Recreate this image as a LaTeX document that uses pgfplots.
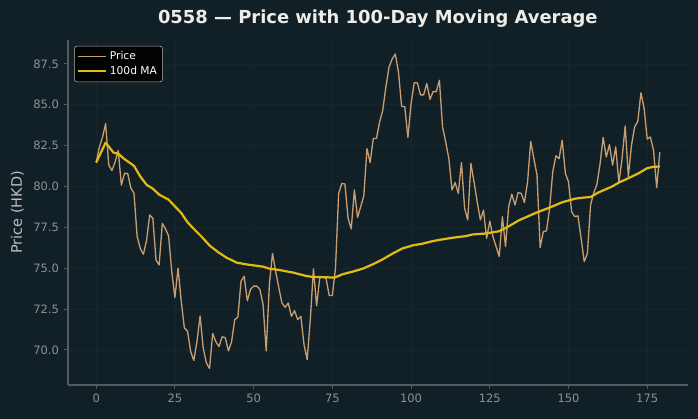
\documentclass[border=0pt]{standalone}
\usepackage{pgfplots}
\pgfplotsset{compat=1.18}
\usepackage{fontspec}
\setmainfont{DejaVu Sans}
\definecolor{bg}{RGB}{17,31,38}
\definecolor{gridc}{RGB}{23,37,44}
\definecolor{spine}{RGB}{85,90,95}
\definecolor{ticklab}{RGB}{140,146,150}
\definecolor{pricec}{RGB}{200,157,112}
\definecolor{mac}{RGB}{226,186,20}
\definecolor{titlec}{RGB}{238,236,230}
\pgfplotstableread{
x y
0 81.46
1 82.4
2 83.0
3 83.84
4 81.3
5 80.97
6 81.5
7 82.2
8 80.08
9 80.8
10 80.8
11 79.9
12 79.6
13 76.95
14 76.2
15 75.85
16 76.7
17 78.25
18 78.05
19 75.5
20 75.2
21 77.74
22 77.4
23 76.97
24 74.8
25 73.2
26 75.0
27 73.0
28 71.34
29 71.15
30 69.9
31 69.35
32 70.5
33 72.07
34 70.1
35 69.2
36 68.86
37 71.0
38 70.5
39 70.2
40 70.8
41 70.75
42 69.94
43 70.5
44 71.85
45 72.0
46 74.2
47 74.5
48 73.0
49 73.7
50 73.9
51 73.9
52 73.7
53 72.76
54 69.93
55 74.0
56 75.9
57 74.8
58 73.8
59 72.87
60 72.6
61 72.87
62 72.05
63 72.4
64 71.85
65 72.05
66 70.33
67 69.4
68 71.85
69 74.96
70 72.7
71 74.4
72 74.45
73 74.37
74 73.33
75 73.33
76 75.0
77 79.57
78 80.18
79 80.15
80 78.05
81 77.4
82 79.78
83 78.1
84 78.76
85 79.43
86 82.32
87 81.46
88 82.93
89 82.93
90 83.94
91 84.65
92 86.08
93 87.3
94 87.8
95 88.1
96 87.0
97 84.9
98 84.88
99 83.0
100 85.06
101 86.34
102 86.34
103 85.6
104 85.6
105 86.3
106 85.33
107 85.8
108 85.8
109 86.5
110 83.64
111 82.72
112 81.7
113 79.78
114 80.24
115 79.57
116 81.46
117 78.66
118 77.95
119 81.4
120 80.28
121 79.06
122 77.95
123 78.55
124 76.83
125 77.88
126 76.93
127 76.32
128 75.71
129 78.15
130 76.32
131 78.76
132 79.53
133 78.86
134 79.63
135 79.57
136 79.02
137 80.28
138 82.76
139 81.7
140 80.69
141 76.26
142 77.24
143 77.28
144 78.66
145 80.9
146 81.87
147 81.7
148 82.83
149 80.8
150 80.28
151 78.45
152 78.15
153 78.2
154 76.83
155 75.4
156 75.9
157 78.86
158 79.6
159 80.1
160 81.35
161 83.0
162 81.8
163 82.56
164 81.3
165 82.42
166 80.2
167 81.7
168 83.7
169 80.6
170 82.52
171 83.64
172 83.98
173 85.73
174 84.8
175 82.89
176 83.03
177 82.21
178 79.92
179 82.1
}\pricetable
\pgfplotstableread{
x y
0 81.46
3 82.68
5.5 82.07
7 82.0
9 81.67
12 81.26
14 80.61
16 80.1
18 79.86
20 79.5
23 79.19
25 78.78
27 78.38
29 77.81
31.4 77.32
33.5 76.92
36 76.39
38.7 75.98
41.4 75.64
44.6 75.34
47.7 75.23
50 75.17
53 75.09
55 74.97
58 74.89
62.5 74.73
66.7 74.52
68.8 74.46
72 74.45
75.7 74.42
78.3 74.63
81.5 74.79
84.7 74.97
87.8 75.23
91 75.54
94.2 75.9
97.3 76.21
100.5 76.39
103.7 76.5
106.8 76.65
109 76.73
113.2 76.86
117.4 76.96
119.5 77.06
123.7 77.12
128 77.26
131.1 77.57
134.3 77.93
139.6 78.38
143.8 78.69
148 79.03
152.3 79.26
155 79.32
157 79.35
159.6 79.64
163.9 80.0
166 80.24
169.1 80.51
172.3 80.81
175 81.12
177 81.2
179 81.22
}\matable
\begin{document}
\begin{tikzpicture}
\fill[bg] (0,0) rectangle (502.56pt,301.68pt);
\useasboundingbox (0,0) rectangle (502.56pt,301.68pt);
\begin{axis}[
  at={(48.96pt,24.48pt)}, anchor=south west,
  scale only axis, width=446.4pt, height=248.4pt,
  xmin=-8.95, xmax=187.95, ymin=67.85, ymax=88.96,
  axis x line*=bottom, axis y line*=left,
  axis line style={draw=spine, line width=0.8pt, -},
  xtick={0,25,...,175},
  ytick={70,72.5,...,87.5},
  tick align=outside, major tick length=3pt,
  tick style={draw=spine, line width=0.6pt},
  grid=major, major grid style={draw=gridc, line width=0.5pt},
  /pgf/number format/assume math mode=true,
  ticklabel style={font=\fontsize{8.3}{10}\selectfont, text=ticklab},
  yticklabel style={/pgf/number format/.cd, fixed, fixed zerofill, precision=1},
  xticklabel style={/pgf/number format/.cd, fixed},
  legend style={at={(0.0097,0.983)}, anchor=north west,
    fill=black, fill opacity=0.9, text opacity=1, draw=white!70!black, rounded corners=2pt,
    text=white, font=\fontsize{7.7}{9}\selectfont, row sep=-1pt, inner sep=2pt},
  legend cell align=left,
  legend image code/.code={\draw[#1] (0pt,0pt) -- (20pt,0pt);},
]
\addplot[pricec, line width=0.95pt, line join=round] table {\pricetable};
\addlegendentry{Price}
\addplot[mac, line width=1.6pt, line join=round] table {\matable};
\addlegendentry{100d MA}
\end{axis}
\node[text=titlec, font=\bfseries\fontsize{12.9}{15}\selectfont] at (272pt,288.5pt) {0558 — Price with 100-Day Moving Average};
\node[rotate=90, text=white!75!black, font=\fontsize{10.4}{12}\selectfont] at (12.5pt,148.7pt) {Price (HKD)};
\end{tikzpicture}
\end{document}
